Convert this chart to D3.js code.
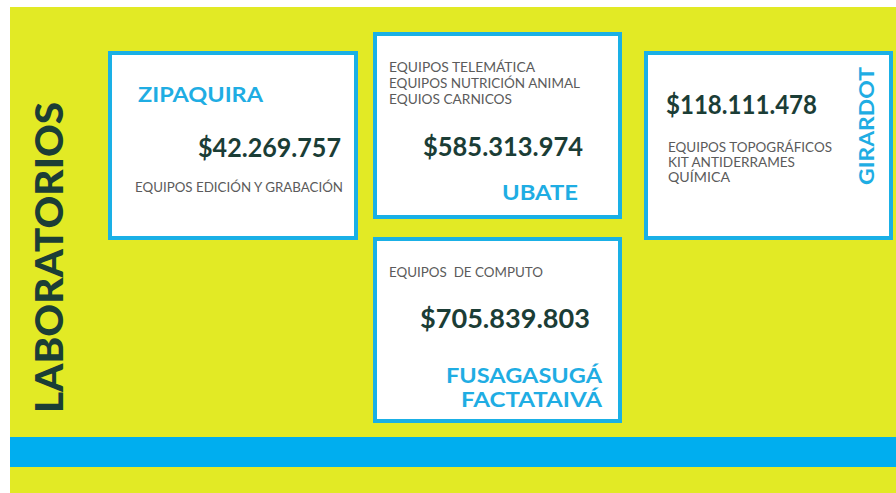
<!DOCTYPE html>
<html><head><meta charset="utf-8">
<script src="https://cdn.jsdelivr.net/npm/d3@7"></script>
<style>html,body{margin:0;padding:0;background:#fff;}svg{display:block;}</style>
</head><body>
<svg id="c" width="896" height="493"></svg>
<script>
// ---- data ----
const titulo = "LABORATORIOS";
const sedes = [["ZIPAQUIRA"], ["UBATE"], ["GIRARDOT"], ["FUSAGASUGÁ", "FACTATAIVÁ"]];
const montos = [42269757, 585313974, 118111478, 705839803];
const equipos = [
  ["EQUIPOS EDICIÓN Y GRABACIÓN"],
  ["EQUIPOS TELEMÁTICA", "EQUIPOS NUTRICIÓN ANIMAL", "EQUIOS CARNICOS"],
  ["EQUIPOS TOPOGRÁFICOS", "KIT ANTIDERRAMES", "QUÍMICA"],
  ["EQUIPOS  DE COMPUTO"]
];

// ---- layout (styles / positions) ----
const W = 896, H = 493;
const C = {bg:"#e2ea25", blue:"#00aeef", border:"#1ab0e6", name:"#1fade3", value:"#1b3d36", desc:"#5b5b5b"};
const FONT = "Lato, 'Open Sans', sans-serif";
const boxes = [
  {x:108, y:51, w:250, h:189,
   name:{x:138, y:102, lens:[125]},
   value:{x:198, y:157, len:143},
   desc:{x:135, y:192, lh:15, lens:[208]}},
  {x:373, y:32, w:249, h:187,
   name:{x:502, y:200, lens:[76]},
   value:{x:423, y:156, len:160},
   desc:{x:389, y:72, lh:16, lens:[146,191,123]}},
  {x:644, y:51, w:249, h:189,
   name:{rot:true, x:874, y:185, lens:[118]},
   value:{x:666, y:114, len:151},
   desc:{x:668, y:152, lh:15, lens:[164,127,62]}},
  {x:373, y:237, w:249, h:186,
   name:{x:602, y:383, lh:24, anchor:"end", lens:[156,141]},
   value:{x:420, y:328, len:170},
   desc:{x:389, y:277, lh:15, lens:[154]}}
];

const svg = d3.select("#c");
svg.append("rect").attr("x",10).attr("y",7).attr("width",W-10).attr("height",H-7).attr("fill",C.bg);
svg.append("rect").attr("x",10).attr("y",437).attr("width",W-10).attr("height",30).attr("fill",C.blue);

// title
svg.append("text")
  .attr("transform","translate(63,413) rotate(-90)")
  .attr("font-family",FONT).attr("font-weight",900).attr("font-size",37)
  .attr("fill",C.value)
  .attr("textLength",311).attr("lengthAdjust","spacingAndGlyphs")
  .text(titulo);

const fmt = d3.formatLocale({decimal:",", thousands:".", grouping:[3], currency:["$",""]}).format("$,.0f");

const g = svg.selectAll("g.box").data(montos.map((m,i)=>({m, sede:sedes[i], eq:equipos[i], L:boxes[i]})))
  .join("g").attr("class","box");

g.append("rect")
  .attr("x",d=>d.L.x+2).attr("y",d=>d.L.y+2)
  .attr("width",d=>d.L.w-4).attr("height",d=>d.L.h-4)
  .attr("fill","#fff").attr("stroke",C.border).attr("stroke-width",4);

// values
g.append("text")
  .attr("x",d=>d.L.value.x).attr("y",d=>d.L.value.y)
  .attr("font-family",FONT).attr("font-weight",700).attr("font-size",26)
  .attr("fill",C.value)
  .attr("textLength",d=>d.L.value.len).attr("lengthAdjust","spacingAndGlyphs")
  .text(d=>fmt(d.m));

// descriptions and names
g.each(function(d){
  const s = d3.select(this);
  s.selectAll("text.desc").data(d.eq).join("text").attr("class","desc")
    .attr("x",d.L.desc.x).attr("y",(t,j)=>d.L.desc.y + j*d.L.desc.lh)
    .attr("font-family",FONT).attr("font-size",12.5).attr("fill",C.desc)
    .style("white-space","pre")
    .attr("textLength",(t,j)=>d.L.desc.lens[j]).attr("lengthAdjust","spacingAndGlyphs")
    .text(t=>t);
  const n = d.L.name;
  s.selectAll("text.name").data(d.sede).join("text").attr("class","name")
    .attr("transform",(t,j)=> n.rot ? `translate(${n.x},${n.y}) rotate(-90)` : `translate(${n.x},${n.y + j*(n.lh||0)})`)
    .attr("text-anchor",n.anchor||"start")
    .attr("font-family",FONT).attr("font-weight",700).attr("font-size",21)
    .attr("fill",C.name)
    .attr("textLength",(t,j)=>n.lens[j]).attr("lengthAdjust","spacingAndGlyphs")
    .text(t=>t);
});
</script>
</body></html>
